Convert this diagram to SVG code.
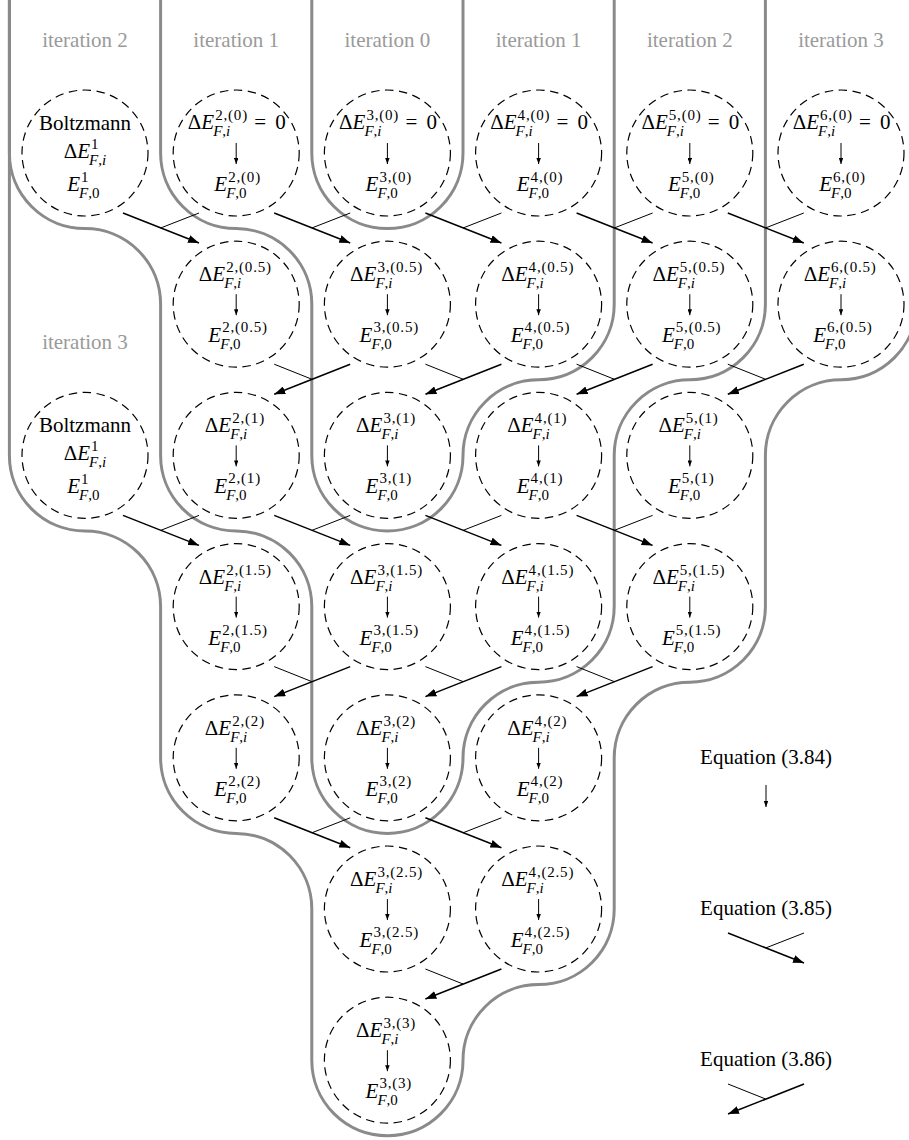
<svg xmlns="http://www.w3.org/2000/svg" width="909" height="1140" viewBox="0 0 909 1140">
<style>
text{font-family:"Liberation Serif","Times New Roman",serif;font-size:21px;fill:#000}
.s{font-size:15px;letter-spacing:0.8px}
.u{font-size:15px}
.i{font-style:italic}
.lab{fill:#9a9a9a}
.g{fill:none;stroke:#8a8a8a;stroke-width:3}
.n{fill:none;stroke:#000;stroke-width:1.2;stroke-dasharray:8.5 5.5}
.m{fill:none;stroke:#000;stroke-width:1.5;marker-end:url(#ah)}
.b{fill:none;stroke:#000;stroke-width:1}
.a{stroke:#000;stroke-width:1;marker-end:url(#sh)}
</style>
<defs>
<marker id="ah" viewBox="0 0 11 8" refX="11" refY="4" markerWidth="11" markerHeight="8" markerUnits="userSpaceOnUse" orient="auto"><path d="M0,0 L11,4 L0,8 z" fill="#000"/></marker>
<marker id="sh" viewBox="0 0 6 4.5" refX="6" refY="2.25" markerWidth="6" markerHeight="4.5" markerUnits="userSpaceOnUse" orient="auto"><path d="M0,0 L6,2.25 L0,4.5 z" fill="#000"/></marker>
</defs>
<rect width="909" height="1140" fill="#fff"/>

<g id="regions">
<path class="g" d="M311.8 0 V153 A75.6 75.6 0 0 0 387.4 228.6 A75.6 75.6 0 0 0 463 153 V0"/>
<path class="g" d="M160.6 0 V153 A75.6 75.6 0 0 0 236.2 228.6 A75.6 75.6 0 0 1 311.8 304.2 V455.4 A75.6 75.6 0 0 0 387.4 531 A75.6 75.6 0 0 0 463 455.4 A75.6 75.6 0 0 1 538.6 379.8 A75.6 75.6 0 0 0 614.2 304.2 V0"/>
<path class="g" d="M9.4 0 V153 A75.6 75.6 0 0 0 85 228.6 A75.6 75.6 0 0 1 160.6 304.2 V455.4 A75.6 75.6 0 0 0 236.2 531 A75.6 75.6 0 0 1 311.8 606.6 V757.8 A75.6 75.6 0 0 0 387.4 833.4 A75.6 75.6 0 0 0 463 757.8 A75.6 75.6 0 0 1 538.6 682.2 A75.6 75.6 0 0 0 614.2 606.6 V455.4 A75.6 75.6 0 0 1 689.8 379.8 A75.6 75.6 0 0 0 765.4 304.2 V0"/>
<path class="g" d="M9.4 0 V455.4 A75.6 75.6 0 0 0 85 531 A75.6 75.6 0 0 1 160.6 606.6 V757.8 A75.6 75.6 0 0 0 236.2 833.4 A75.6 75.6 0 0 1 311.8 909 V1060.2 A75.6 75.6 0 0 0 387.4 1135.8 A75.6 75.6 0 0 0 463 1060.2 A75.6 75.6 0 0 1 538.6 984.6 A75.6 75.6 0 0 0 614.2 909 V757.8 A75.6 75.6 0 0 1 689.8 682.2 A75.6 75.6 0 0 0 765.4 606.6 V455.4 A75.6 75.6 0 0 1 841 379.8 A75.6 75.6 0 0 0 916.6 304.2 V0"/>
</g>

<g id="labels" text-anchor="middle">
<text class="lab" x="85" y="47">iteration 2</text>
<text class="lab" x="236.2" y="47">iteration 1</text>
<text class="lab" x="387.4" y="47">iteration 0</text>
<text class="lab" x="538.6" y="47">iteration 1</text>
<text class="lab" x="689.8" y="47">iteration 2</text>
<text class="lab" x="841" y="47">iteration 3</text>
<text class="lab" x="85" y="349">iteration 3</text>
</g>

<g id="connectors">
<path class="m" d="M123 213 L199 243"/><path class="b" d="M199 213 L160.6 228"/>
<path class="m" d="M274.2 213 L350.2 243"/><path class="b" d="M350.2 213 L311.8 228"/>
<path class="m" d="M425.4 213 L501.4 243"/><path class="b" d="M501.4 213 L463 228"/>
<path class="m" d="M576.6 213 L652.6 243"/><path class="b" d="M652.6 213 L614.2 228"/>
<path class="m" d="M727.8 213 L803.8 243"/><path class="b" d="M803.8 213 L765.4 228"/>
<path class="m" d="M350.2 364.2 L274.2 394.2"/><path class="b" d="M274.2 364.2 L311.8 379.2"/>
<path class="m" d="M501.4 364.2 L425.4 394.2"/><path class="b" d="M425.4 364.2 L463 379.2"/>
<path class="m" d="M652.6 364.2 L576.6 394.2"/><path class="b" d="M576.6 364.2 L614.2 379.2"/>
<path class="m" d="M803.8 364.2 L727.8 394.2"/><path class="b" d="M727.8 364.2 L765.4 379.2"/>
<path class="m" d="M123 515.4 L199 545.4"/><path class="b" d="M199 515.4 L160.6 530.4"/>
<path class="m" d="M274.2 515.4 L350.2 545.4"/><path class="b" d="M350.2 515.4 L311.8 530.4"/>
<path class="m" d="M425.4 515.4 L501.4 545.4"/><path class="b" d="M501.4 515.4 L463 530.4"/>
<path class="m" d="M576.6 515.4 L652.6 545.4"/><path class="b" d="M652.6 515.4 L614.2 530.4"/>
<path class="m" d="M350.2 666.6 L274.2 696.6"/><path class="b" d="M274.2 666.6 L311.8 681.6"/>
<path class="m" d="M501.4 666.6 L425.4 696.6"/><path class="b" d="M425.4 666.6 L463 681.6"/>
<path class="m" d="M652.6 666.6 L576.6 696.6"/><path class="b" d="M576.6 666.6 L614.2 681.6"/>
<path class="m" d="M274.2 817.8 L350.2 847.8"/><path class="b" d="M350.2 817.8 L311.8 832.8"/>
<path class="m" d="M425.4 817.8 L501.4 847.8"/><path class="b" d="M501.4 817.8 L463 832.8"/>
<path class="m" d="M501.4 969 L425.4 999"/><path class="b" d="M425.4 969 L463 984"/>
</g>

<g id="b1">
<circle class="n" cx="85" cy="153" r="63"/>
<text x="85" y="130" text-anchor="middle">Boltzmann</text>
<text x="90" y="158" text-anchor="end">Δ<tspan class="i">E</tspan></text>
<text class="s" x="91" y="149">1</text>
<text class="u" x="89" y="165"><tspan class="i">F</tspan>,<tspan class="i">i</tspan></text>
<text class="i" x="80" y="191" text-anchor="end">E</text>
<text class="s" x="81" y="182">1</text>
<text class="u" x="79" y="198"><tspan class="i">F</tspan>,0</text>
</g>

<g id="n2-0">
<circle class="n" cx="236.2" cy="153" r="63"/>
<text x="214.2" y="129" text-anchor="end">Δ<tspan class="i">E</tspan></text>
<text class="s" x="215.2" y="120">2,(0)</text>
<text class="u" x="213.2" y="136"><tspan class="i">F</tspan>,<tspan class="i">i</tspan></text>
<text x="254.2" y="129">=</text><text x="275.2" y="129">0</text>
<line class="a" x1="236.2" y1="143" x2="236.2" y2="164"/>
<text class="i" x="227.2" y="191" text-anchor="end">E</text>
<text class="s" x="228.2" y="182">2,(0)</text>
<text class="u" x="226.2" y="198"><tspan class="i">F</tspan>,0</text>
</g>

<g id="n3-0">
<circle class="n" cx="387.4" cy="153" r="63"/>
<text x="365.4" y="129" text-anchor="end">Δ<tspan class="i">E</tspan></text>
<text class="s" x="366.4" y="120">3,(0)</text>
<text class="u" x="364.4" y="136"><tspan class="i">F</tspan>,<tspan class="i">i</tspan></text>
<text x="405.4" y="129">=</text><text x="426.4" y="129">0</text>
<line class="a" x1="387.4" y1="143" x2="387.4" y2="164"/>
<text class="i" x="378.4" y="191" text-anchor="end">E</text>
<text class="s" x="379.4" y="182">3,(0)</text>
<text class="u" x="377.4" y="198"><tspan class="i">F</tspan>,0</text>
</g>

<g id="n4-0">
<circle class="n" cx="538.6" cy="153" r="63"/>
<text x="516.6" y="129" text-anchor="end">Δ<tspan class="i">E</tspan></text>
<text class="s" x="517.6" y="120">4,(0)</text>
<text class="u" x="515.6" y="136"><tspan class="i">F</tspan>,<tspan class="i">i</tspan></text>
<text x="556.6" y="129">=</text><text x="577.6" y="129">0</text>
<line class="a" x1="538.6" y1="143" x2="538.6" y2="164"/>
<text class="i" x="529.6" y="191" text-anchor="end">E</text>
<text class="s" x="530.6" y="182">4,(0)</text>
<text class="u" x="528.6" y="198"><tspan class="i">F</tspan>,0</text>
</g>

<g id="n5-0">
<circle class="n" cx="689.8" cy="153" r="63"/>
<text x="667.8" y="129" text-anchor="end">Δ<tspan class="i">E</tspan></text>
<text class="s" x="668.8" y="120">5,(0)</text>
<text class="u" x="666.8" y="136"><tspan class="i">F</tspan>,<tspan class="i">i</tspan></text>
<text x="707.8" y="129">=</text><text x="728.8" y="129">0</text>
<line class="a" x1="689.8" y1="143" x2="689.8" y2="164"/>
<text class="i" x="680.8" y="191" text-anchor="end">E</text>
<text class="s" x="681.8" y="182">5,(0)</text>
<text class="u" x="679.8" y="198"><tspan class="i">F</tspan>,0</text>
</g>

<g id="n6-0">
<circle class="n" cx="841" cy="153" r="63"/>
<text x="819" y="129" text-anchor="end">Δ<tspan class="i">E</tspan></text>
<text class="s" x="820" y="120">6,(0)</text>
<text class="u" x="818" y="136"><tspan class="i">F</tspan>,<tspan class="i">i</tspan></text>
<text x="859" y="129">=</text><text x="880" y="129">0</text>
<line class="a" x1="841" y1="143" x2="841" y2="164"/>
<text class="i" x="832" y="191" text-anchor="end">E</text>
<text class="s" x="833" y="182">6,(0)</text>
<text class="u" x="831" y="198"><tspan class="i">F</tspan>,0</text>
</g>

<g id="n2-05">
<circle class="n" cx="236.2" cy="304.2" r="63"/>
<text x="225.2" y="281.2" text-anchor="end">Δ<tspan class="i">E</tspan></text>
<text class="s" x="226.2" y="272.2">2,(0.5)</text>
<text class="u" x="224.2" y="288.2"><tspan class="i">F</tspan>,<tspan class="i">i</tspan></text>
<line class="a" x1="236.2" y1="294.2" x2="236.2" y2="315.2"/>
<text class="i" x="221.2" y="342.2" text-anchor="end">E</text>
<text class="s" x="222.2" y="332.2">2,(0.5)</text>
<text class="u" x="220.2" y="349.2"><tspan class="i">F</tspan>,0</text>
</g>

<g id="n3-05">
<circle class="n" cx="387.4" cy="304.2" r="63"/>
<text x="376.4" y="281.2" text-anchor="end">Δ<tspan class="i">E</tspan></text>
<text class="s" x="377.4" y="272.2">3,(0.5)</text>
<text class="u" x="375.4" y="288.2"><tspan class="i">F</tspan>,<tspan class="i">i</tspan></text>
<line class="a" x1="387.4" y1="294.2" x2="387.4" y2="315.2"/>
<text class="i" x="372.4" y="342.2" text-anchor="end">E</text>
<text class="s" x="373.4" y="332.2">3,(0.5)</text>
<text class="u" x="371.4" y="349.2"><tspan class="i">F</tspan>,0</text>
</g>

<g id="n4-05">
<circle class="n" cx="538.6" cy="304.2" r="63"/>
<text x="527.6" y="281.2" text-anchor="end">Δ<tspan class="i">E</tspan></text>
<text class="s" x="528.6" y="272.2">4,(0.5)</text>
<text class="u" x="526.6" y="288.2"><tspan class="i">F</tspan>,<tspan class="i">i</tspan></text>
<line class="a" x1="538.6" y1="294.2" x2="538.6" y2="315.2"/>
<text class="i" x="523.6" y="342.2" text-anchor="end">E</text>
<text class="s" x="524.6" y="332.2">4,(0.5)</text>
<text class="u" x="522.6" y="349.2"><tspan class="i">F</tspan>,0</text>
</g>

<g id="n5-05">
<circle class="n" cx="689.8" cy="304.2" r="63"/>
<text x="678.8" y="281.2" text-anchor="end">Δ<tspan class="i">E</tspan></text>
<text class="s" x="679.8" y="272.2">5,(0.5)</text>
<text class="u" x="677.8" y="288.2"><tspan class="i">F</tspan>,<tspan class="i">i</tspan></text>
<line class="a" x1="689.8" y1="294.2" x2="689.8" y2="315.2"/>
<text class="i" x="674.8" y="342.2" text-anchor="end">E</text>
<text class="s" x="675.8" y="332.2">5,(0.5)</text>
<text class="u" x="673.8" y="349.2"><tspan class="i">F</tspan>,0</text>
</g>

<g id="n6-05">
<circle class="n" cx="841" cy="304.2" r="63"/>
<text x="830" y="281.2" text-anchor="end">Δ<tspan class="i">E</tspan></text>
<text class="s" x="831" y="272.2">6,(0.5)</text>
<text class="u" x="829" y="288.2"><tspan class="i">F</tspan>,<tspan class="i">i</tspan></text>
<line class="a" x1="841" y1="294.2" x2="841" y2="315.2"/>
<text class="i" x="826" y="342.2" text-anchor="end">E</text>
<text class="s" x="827" y="332.2">6,(0.5)</text>
<text class="u" x="825" y="349.2"><tspan class="i">F</tspan>,0</text>
</g>

<g id="b2">
<circle class="n" cx="85" cy="455.4" r="63"/>
<text x="85" y="432.4" text-anchor="middle">Boltzmann</text>
<text x="90" y="460.4" text-anchor="end">Δ<tspan class="i">E</tspan></text>
<text class="s" x="91" y="451.4">1</text>
<text class="u" x="89" y="467.4"><tspan class="i">F</tspan>,<tspan class="i">i</tspan></text>
<text class="i" x="80" y="493.4" text-anchor="end">E</text>
<text class="s" x="81" y="484.4">1</text>
<text class="u" x="79" y="500.4"><tspan class="i">F</tspan>,0</text>
</g>

<g id="n2-1">
<circle class="n" cx="236.2" cy="455.4" r="63"/>
<text x="231.2" y="432.4" text-anchor="end">Δ<tspan class="i">E</tspan></text>
<text class="s" x="232.2" y="423.4">2,(1)</text>
<text class="u" x="230.2" y="439.4"><tspan class="i">F</tspan>,<tspan class="i">i</tspan></text>
<line class="a" x1="236.2" y1="445.4" x2="236.2" y2="466.4"/>
<text class="i" x="227.2" y="493.4" text-anchor="end">E</text>
<text class="s" x="228.2" y="483.4">2,(1)</text>
<text class="u" x="226.2" y="500.4"><tspan class="i">F</tspan>,0</text>
</g>

<g id="n3-1">
<circle class="n" cx="387.4" cy="455.4" r="63"/>
<text x="382.4" y="432.4" text-anchor="end">Δ<tspan class="i">E</tspan></text>
<text class="s" x="383.4" y="423.4">3,(1)</text>
<text class="u" x="381.4" y="439.4"><tspan class="i">F</tspan>,<tspan class="i">i</tspan></text>
<line class="a" x1="387.4" y1="445.4" x2="387.4" y2="466.4"/>
<text class="i" x="378.4" y="493.4" text-anchor="end">E</text>
<text class="s" x="379.4" y="483.4">3,(1)</text>
<text class="u" x="377.4" y="500.4"><tspan class="i">F</tspan>,0</text>
</g>

<g id="n4-1">
<circle class="n" cx="538.6" cy="455.4" r="63"/>
<text x="533.6" y="432.4" text-anchor="end">Δ<tspan class="i">E</tspan></text>
<text class="s" x="534.6" y="423.4">4,(1)</text>
<text class="u" x="532.6" y="439.4"><tspan class="i">F</tspan>,<tspan class="i">i</tspan></text>
<line class="a" x1="538.6" y1="445.4" x2="538.6" y2="466.4"/>
<text class="i" x="529.6" y="493.4" text-anchor="end">E</text>
<text class="s" x="530.6" y="483.4">4,(1)</text>
<text class="u" x="528.6" y="500.4"><tspan class="i">F</tspan>,0</text>
</g>

<g id="n5-1">
<circle class="n" cx="689.8" cy="455.4" r="63"/>
<text x="684.8" y="432.4" text-anchor="end">Δ<tspan class="i">E</tspan></text>
<text class="s" x="685.8" y="423.4">5,(1)</text>
<text class="u" x="683.8" y="439.4"><tspan class="i">F</tspan>,<tspan class="i">i</tspan></text>
<line class="a" x1="689.8" y1="445.4" x2="689.8" y2="466.4"/>
<text class="i" x="680.8" y="493.4" text-anchor="end">E</text>
<text class="s" x="681.8" y="483.4">5,(1)</text>
<text class="u" x="679.8" y="500.4"><tspan class="i">F</tspan>,0</text>
</g>

<g id="n2-15">
<circle class="n" cx="236.2" cy="606.6" r="63"/>
<text x="225.2" y="583.6" text-anchor="end">Δ<tspan class="i">E</tspan></text>
<text class="s" x="226.2" y="574.6">2,(1.5)</text>
<text class="u" x="224.2" y="590.6"><tspan class="i">F</tspan>,<tspan class="i">i</tspan></text>
<line class="a" x1="236.2" y1="596.6" x2="236.2" y2="617.6"/>
<text class="i" x="221.2" y="644.6" text-anchor="end">E</text>
<text class="s" x="222.2" y="634.6">2,(1.5)</text>
<text class="u" x="220.2" y="651.6"><tspan class="i">F</tspan>,0</text>
</g>

<g id="n3-15">
<circle class="n" cx="387.4" cy="606.6" r="63"/>
<text x="376.4" y="583.6" text-anchor="end">Δ<tspan class="i">E</tspan></text>
<text class="s" x="377.4" y="574.6">3,(1.5)</text>
<text class="u" x="375.4" y="590.6"><tspan class="i">F</tspan>,<tspan class="i">i</tspan></text>
<line class="a" x1="387.4" y1="596.6" x2="387.4" y2="617.6"/>
<text class="i" x="372.4" y="644.6" text-anchor="end">E</text>
<text class="s" x="373.4" y="634.6">3,(1.5)</text>
<text class="u" x="371.4" y="651.6"><tspan class="i">F</tspan>,0</text>
</g>

<g id="n4-15">
<circle class="n" cx="538.6" cy="606.6" r="63"/>
<text x="527.6" y="583.6" text-anchor="end">Δ<tspan class="i">E</tspan></text>
<text class="s" x="528.6" y="574.6">4,(1.5)</text>
<text class="u" x="526.6" y="590.6"><tspan class="i">F</tspan>,<tspan class="i">i</tspan></text>
<line class="a" x1="538.6" y1="596.6" x2="538.6" y2="617.6"/>
<text class="i" x="523.6" y="644.6" text-anchor="end">E</text>
<text class="s" x="524.6" y="634.6">4,(1.5)</text>
<text class="u" x="522.6" y="651.6"><tspan class="i">F</tspan>,0</text>
</g>

<g id="n5-15">
<circle class="n" cx="689.8" cy="606.6" r="63"/>
<text x="678.8" y="583.6" text-anchor="end">Δ<tspan class="i">E</tspan></text>
<text class="s" x="679.8" y="574.6">5,(1.5)</text>
<text class="u" x="677.8" y="590.6"><tspan class="i">F</tspan>,<tspan class="i">i</tspan></text>
<line class="a" x1="689.8" y1="596.6" x2="689.8" y2="617.6"/>
<text class="i" x="674.8" y="644.6" text-anchor="end">E</text>
<text class="s" x="675.8" y="634.6">5,(1.5)</text>
<text class="u" x="673.8" y="651.6"><tspan class="i">F</tspan>,0</text>
</g>

<g id="n2-2">
<circle class="n" cx="236.2" cy="757.8" r="63"/>
<text x="231.2" y="734.8" text-anchor="end">Δ<tspan class="i">E</tspan></text>
<text class="s" x="232.2" y="725.8">2,(2)</text>
<text class="u" x="230.2" y="741.8"><tspan class="i">F</tspan>,<tspan class="i">i</tspan></text>
<line class="a" x1="236.2" y1="747.8" x2="236.2" y2="768.8"/>
<text class="i" x="227.2" y="795.8" text-anchor="end">E</text>
<text class="s" x="228.2" y="785.8">2,(2)</text>
<text class="u" x="226.2" y="802.8"><tspan class="i">F</tspan>,0</text>
</g>

<g id="n3-2">
<circle class="n" cx="387.4" cy="757.8" r="63"/>
<text x="382.4" y="734.8" text-anchor="end">Δ<tspan class="i">E</tspan></text>
<text class="s" x="383.4" y="725.8">3,(2)</text>
<text class="u" x="381.4" y="741.8"><tspan class="i">F</tspan>,<tspan class="i">i</tspan></text>
<line class="a" x1="387.4" y1="747.8" x2="387.4" y2="768.8"/>
<text class="i" x="378.4" y="795.8" text-anchor="end">E</text>
<text class="s" x="379.4" y="785.8">3,(2)</text>
<text class="u" x="377.4" y="802.8"><tspan class="i">F</tspan>,0</text>
</g>

<g id="n4-2">
<circle class="n" cx="538.6" cy="757.8" r="63"/>
<text x="533.6" y="734.8" text-anchor="end">Δ<tspan class="i">E</tspan></text>
<text class="s" x="534.6" y="725.8">4,(2)</text>
<text class="u" x="532.6" y="741.8"><tspan class="i">F</tspan>,<tspan class="i">i</tspan></text>
<line class="a" x1="538.6" y1="747.8" x2="538.6" y2="768.8"/>
<text class="i" x="529.6" y="795.8" text-anchor="end">E</text>
<text class="s" x="530.6" y="785.8">4,(2)</text>
<text class="u" x="528.6" y="802.8"><tspan class="i">F</tspan>,0</text>
</g>

<g id="n3-25">
<circle class="n" cx="387.4" cy="909" r="63"/>
<text x="376.4" y="886" text-anchor="end">Δ<tspan class="i">E</tspan></text>
<text class="s" x="377.4" y="877">3,(2.5)</text>
<text class="u" x="375.4" y="893"><tspan class="i">F</tspan>,<tspan class="i">i</tspan></text>
<line class="a" x1="387.4" y1="899" x2="387.4" y2="920"/>
<text class="i" x="372.4" y="947" text-anchor="end">E</text>
<text class="s" x="373.4" y="937">3,(2.5)</text>
<text class="u" x="371.4" y="954"><tspan class="i">F</tspan>,0</text>
</g>

<g id="n4-25">
<circle class="n" cx="538.6" cy="909" r="63"/>
<text x="527.6" y="886" text-anchor="end">Δ<tspan class="i">E</tspan></text>
<text class="s" x="528.6" y="877">4,(2.5)</text>
<text class="u" x="526.6" y="893"><tspan class="i">F</tspan>,<tspan class="i">i</tspan></text>
<line class="a" x1="538.6" y1="899" x2="538.6" y2="920"/>
<text class="i" x="523.6" y="947" text-anchor="end">E</text>
<text class="s" x="524.6" y="937">4,(2.5)</text>
<text class="u" x="522.6" y="954"><tspan class="i">F</tspan>,0</text>
</g>

<g id="n3-3">
<circle class="n" cx="387.4" cy="1060.2" r="63"/>
<text x="382.4" y="1037.2" text-anchor="end">Δ<tspan class="i">E</tspan></text>
<text class="s" x="383.4" y="1028.2">3,(3)</text>
<text class="u" x="381.4" y="1044.2"><tspan class="i">F</tspan>,<tspan class="i">i</tspan></text>
<line class="a" x1="387.4" y1="1050.2" x2="387.4" y2="1071.2"/>
<text class="i" x="378.4" y="1098.2" text-anchor="end">E</text>
<text class="s" x="379.4" y="1088.2">3,(3)</text>
<text class="u" x="377.4" y="1105.2"><tspan class="i">F</tspan>,0</text>
</g>

<g id="legend">
<text x="766" y="764" text-anchor="middle">Equation (3.84)</text>
<line class="a" x1="766" y1="785" x2="766" y2="807"/>
<text x="766" y="915" text-anchor="middle">Equation (3.85)</text>
<path class="m" d="M728 933 L804 963"/><path class="b" d="M804 933 L765.6 948"/>
<text x="766" y="1066" text-anchor="middle">Equation (3.86)</text>
<path class="m" d="M804 1084 L728 1114"/><path class="b" d="M728 1084 L765.6 1099"/>
</g>
</svg>
